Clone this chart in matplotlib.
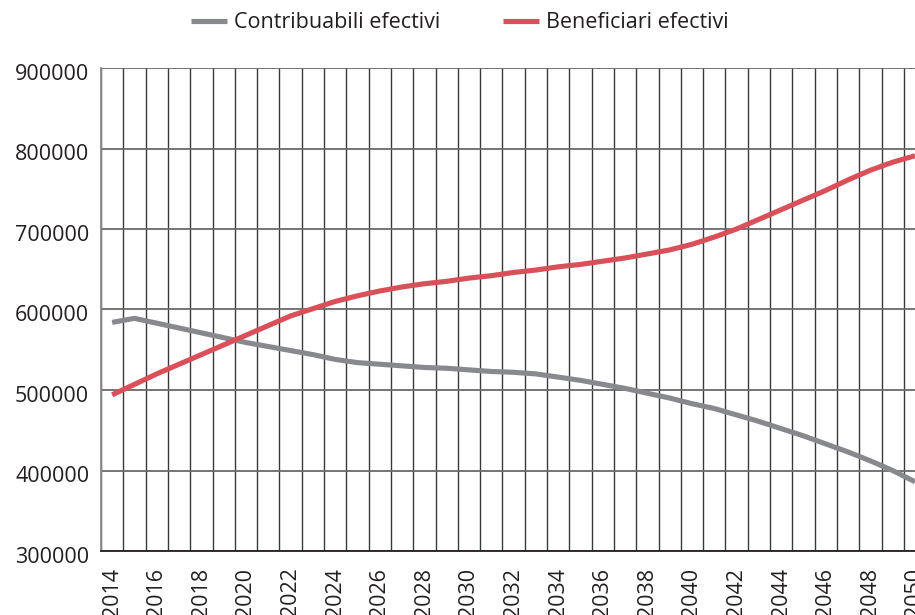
import matplotlib
matplotlib.use("Agg")
import matplotlib.pyplot as plt
import matplotlib.transforms as mtransforms
import numpy as np

years = list(range(2014, 2051))
contribuabili = [584000, 589000, 583000, 577000, 571000, 565000, 559000, 554000,
                 549000, 544000, 538000, 534000, 532000, 530000, 528000, 527000,
                 525000, 523000, 522000, 520000, 516000, 512000, 507000, 502000,
                 496000, 490000, 483000, 477000, 469000, 461000, 452000, 443000,
                 433000, 423000, 412000, 400000, 386000]
beneficiari = [494000, 507000, 520000, 532000, 544000, 556000, 568000, 580000,
               592000, 601000, 610000, 617000, 623000, 628000, 632000, 635000,
               639000, 642000, 646000, 649000, 653000, 656000, 660000, 664000,
               669000, 674000, 681000, 690000, 700000, 712000, 724000, 736000,
               748000, 761000, 773000, 783000, 791000]
y_ticks = [300000, 400000, 500000, 600000, 700000, 800000, 900000]
series_labels = ["Contribuabili efectivi", "Beneficiari efectivi"]

plt.rcParams['font.family'] = ['Open Sans', 'DejaVu Sans']

fig = plt.figure(figsize=(9.15, 6.15), dpi=100)
ax = fig.add_axes([101/915, 1 - 551/615, 814/915, (551 - 68)/615])

x = np.arange(len(years))
l1, = ax.plot(x, contribuabili, color='#88898d', lw=3.7, solid_capstyle='butt',
              label=series_labels[0], zorder=3)
l2, = ax.plot(x, beneficiari, color='#d9505a', lw=3.7, solid_capstyle='butt',
              label=series_labels[1], zorder=3)

# category ticks
ax.set_xticks(x[::2])
ax.set_xticklabels([str(y) for y in years[::2]], rotation=90, fontsize=15.5,
                   color='#231f20')
ax.set_xticks(np.arange(-0.5, len(years), 1), minor=True)
ax.set_yticks(y_ticks)
ax.set_yticklabels([str(v) for v in y_ticks], fontsize=15.5, color='#231f20')
ax.tick_params(axis='both', which='both', length=0)
ax.tick_params(axis='x', pad=12)
ax.tick_params(axis='y', pad=8.5)

ax.set_xlim(-0.5, 36.0)
ax.set_ylim(300000, 900000)

ax.grid(True, axis='x', which='minor', color='#3a3a3a', lw=1.0, zorder=1)
ax.grid(True, axis='y', which='major', color='#6a6a6a', lw=1.3, zorder=1)
ax.grid(False, axis='x', which='major')

for side in ['top', 'right']:
    ax.spines[side].set_visible(False)
ax.spines['left'].set_color('#8a8a8a')
ax.spines['left'].set_linewidth(1.3)
ax.spines['bottom'].set_color('#231f20')
ax.spines['bottom'].set_linewidth(1.3)

# shift y labels slightly down like the old-style figures of the original
off = mtransforms.ScaledTranslation(0, -4/100, fig.dpi_scale_trans)
for lab in ax.get_yticklabels():
    lab.set_transform(lab.get_transform() + off)

fig.legend(handles=[l1, l2], loc='center', bbox_to_anchor=(460/915, 1 - 23/615),
           ncol=2, frameon=False, fontsize=15.5, handlelength=1.65,
           handletextpad=0.35, columnspacing=2.9, labelcolor='#231f20')

fig.savefig("out.png", dpi=100)
